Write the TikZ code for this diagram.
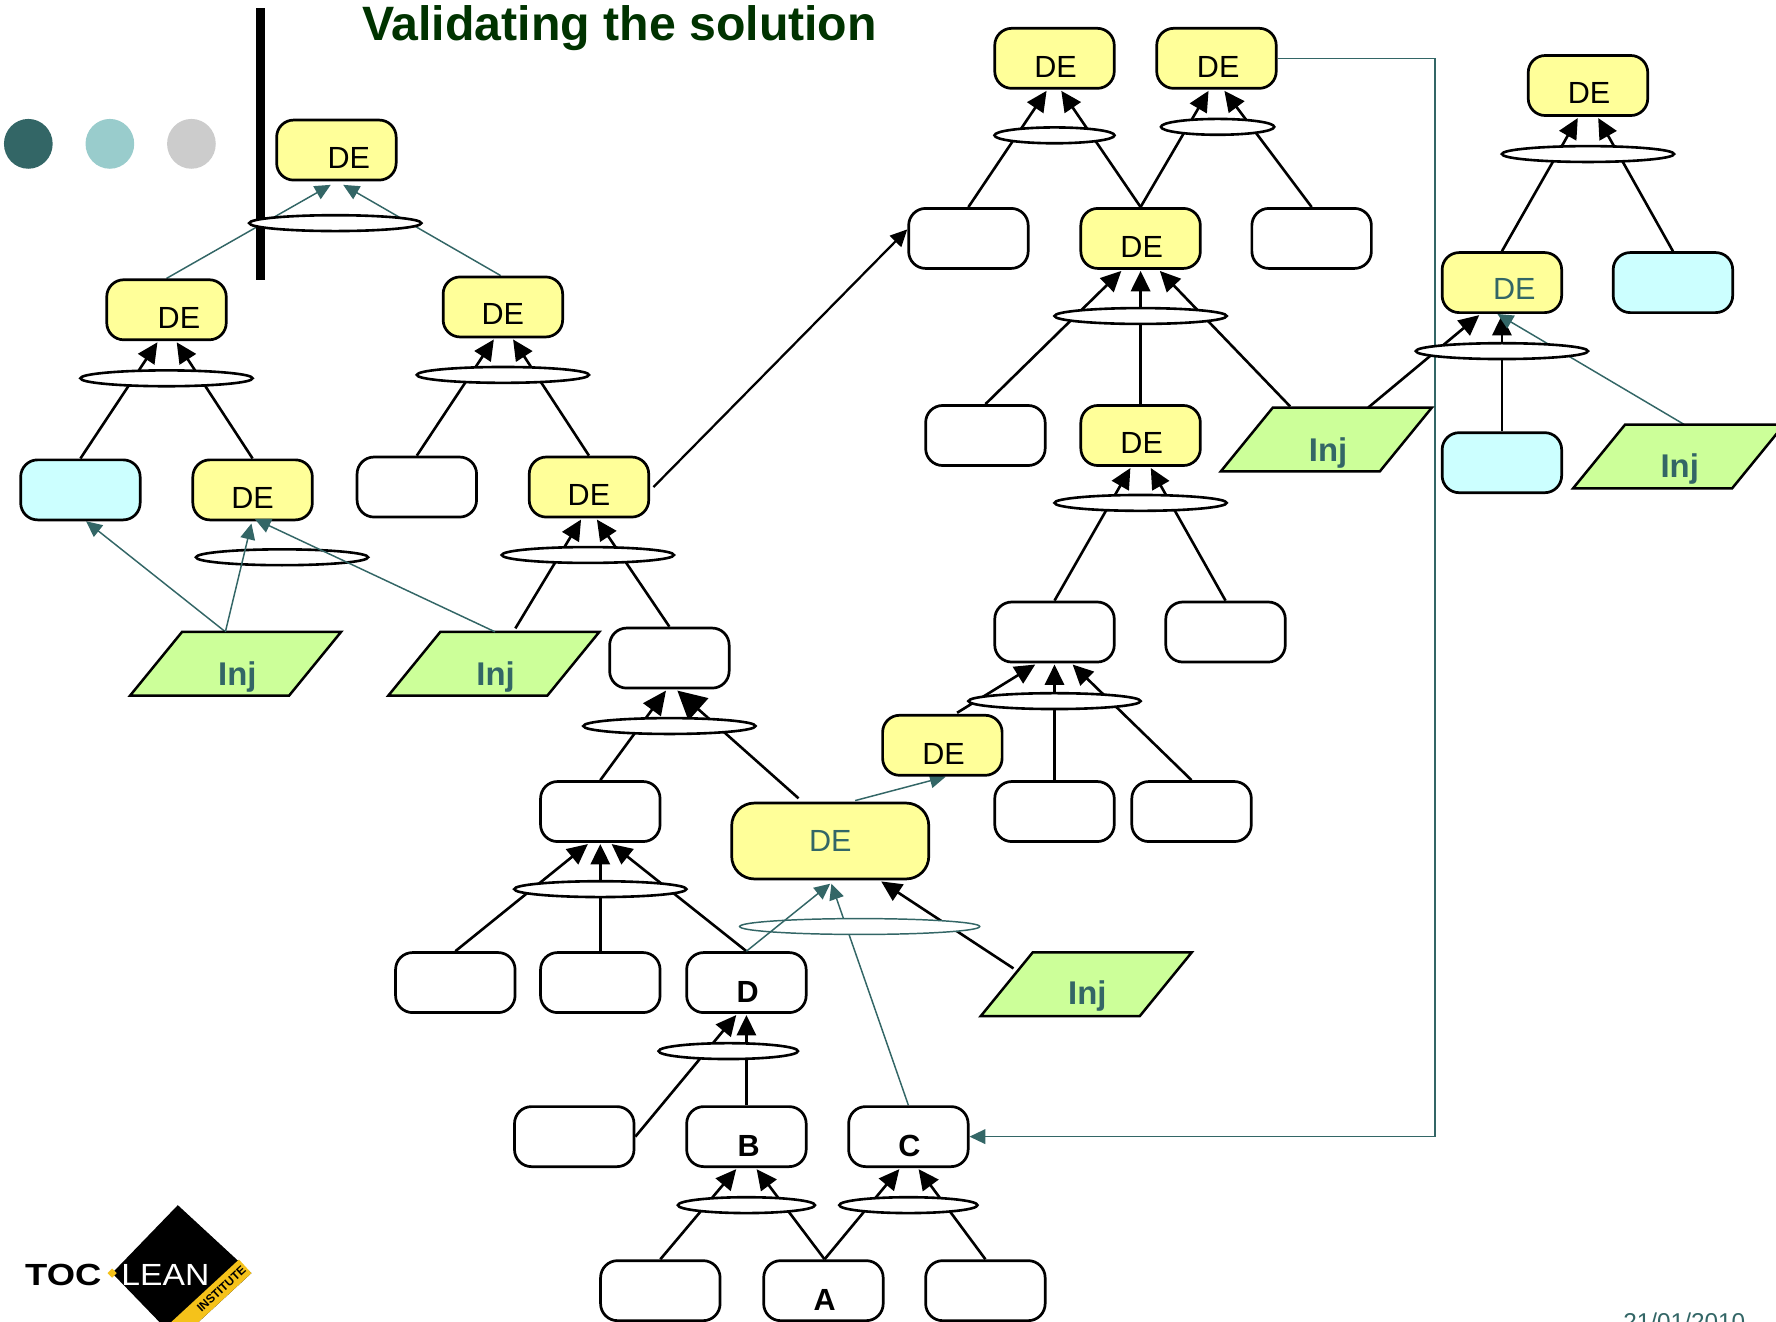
\documentclass[tikz,border=0pt]{standalone}
\usepackage{fontspec}
\setmainfont{Liberation Sans}
\usetikzlibrary{shapes.geometric,arrows.meta}
\pgfdeclarelayer{bg}\pgfdeclarelayer{shapelayer}\pgfdeclarelayer{fg}
\pgfsetlayers{bg,shapelayer,main,fg}
\definecolor{tealc}{HTML}{336666}
\definecolor{yel}{HTML}{FFFF99}
\definecolor{cya}{HTML}{CCFFFF}
\definecolor{grn}{HTML}{CCFF99}
\definecolor{lteal}{HTML}{99CCCC}
\definecolor{gry}{HTML}{CCCCCC}
\definecolor{ttl}{HTML}{003300}
\definecolor{logoy}{HTML}{F5C21A}
\newcommand{\injshape}[1]{\begin{pgfonlayer}{shapelayer}\draw[draw=black,line width=2.2pt,fill=grn] ([xshift=-23pt]#1.south west) -- ([xshift=23pt]#1.north west) -- ([xshift=23pt]#1.north east) -- ([xshift=-23pt]#1.south east) -- cycle;\end{pgfonlayer}}
\tikzset{
 boxbase/.style={draw=black,line width=2.4pt,rounded corners=15pt,minimum width=105.5pt,minimum height=53pt,inner sep=0pt},
 wbox/.style={boxbase,fill=white},
 ybox/.style={boxbase,fill=yel},
 cbox/.style={boxbase,fill=cya},
 lab/.style={font=\fontsize{27}{30}\selectfont,text=black,inner sep=0pt},
 tlab/.style={lab,text=tealc},
 blab/.style={lab,font=\fontsize{27}{30}\selectfont\bfseries},
 ilab/.style={lab,font=\fontsize{29}{32}\selectfont\bfseries,text=tealc},
 inj/.style={rectangle,minimum width=140pt,minimum height=56pt,inner sep=0pt},
 junc/.style={ellipse,draw=black,line width=2.3pt,fill=white,minimum height=14pt,inner sep=0pt},
 blk/.style={draw=black,line width=2.3pt,-{Triangle[length=18pt,width=17pt]}},
 bigblk/.style={draw=black,line width=2.3pt,-{Triangle[length=25pt,width=26pt]}},
 tl/.style={draw=tealc,line width=1.3pt,-{Triangle[length=14pt,width=13pt]}},
 dot/.style={ellipse,minimum width=43pt,minimum height=44pt,inner sep=0pt},
}
\begin{document}
\begin{tikzpicture}[x=1pt,y=-1pt]
\useasboundingbox (0,0) rectangle (1568,1166.3);
% title, bar, dots
\node[inner sep=0pt,font=\fontsize{42.6}{45}\selectfont\bfseries,text=ttl] (title) at (547,24.5) {Validating the solution};
\fill[black] (226,7) rectangle (234,247);
\node[dot,fill=tealc] (dota) at (25,127) {};
\node[dot,fill=lteal] (dotb) at (97,127) {};
\node[dot,fill=gry] (dotc) at (169,127) {};
% boxes
\node[ybox,label={[lab,xshift=11pt,yshift=-7pt]center:DE}] (t1) at (297,132.5) {};
\node[ybox,label={[lab,xshift=11pt,yshift=-7pt]center:DE}] (b1) at (147,273.5) {};
\node[ybox,label={[lab,yshift=-6pt]center:DE}] (b2) at (444,271) {};
\node[cbox] (c1) at (71,432.5) {};
\node[ybox,label={[lab,yshift=-7pt]center:DE}] (d1) at (223,432.5) {};
\node[wbox] (w1) at (368,430) {};
\node[ybox,label={[lab,yshift=-7pt]center:DE}] (d2) at (520,430) {};
\node[wbox] (w2) at (591,581) {};
\node[wbox] (w3) at (530,716.5) {};
\node[boxbase,fill=yel,minimum width=174pt,minimum height=67pt,rounded corners=20pt,label={[tlab]center:DE}] (big) at (733,742.5) {};
\node[ybox,label={[lab,xshift=1pt,yshift=-8pt]center:DE}] (d3) at (832,658) {};
\node[wbox] (w4) at (402,867.5) {};
\node[wbox] (w5) at (530,867.5) {};
\node[wbox,label={[blab,xshift=1pt,yshift=-8pt]center:D}] (nD) at (659,867.5) {};
\node[wbox] (w6) at (507,1003.5) {};
\node[wbox,label={[blab,xshift=2pt,yshift=-8pt]center:B}] (nB) at (659,1003.5) {};
\node[wbox,label={[blab,xshift=1pt,yshift=-8pt]center:C}] (nC) at (802,1003.5) {};
\node[wbox] (w7) at (583,1139.5) {};
\node[wbox,label={[blab,xshift=1pt,yshift=-8pt]center:A}] (nA) at (727,1139.5) {};
\node[wbox] (w8) at (870,1139.5) {};
\node[wbox] (w9) at (931,716.5) {};
\node[wbox] (w10) at (1052,716.5) {};
\node[wbox] (w11) at (931,558) {};
\node[wbox] (w12) at (1082,558) {};
\node[ybox,label={[lab,xshift=1pt,yshift=-7pt]center:DE}] (d4) at (1007,384.5) {};
\node[wbox] (w13) at (870,384.5) {};
\node[ybox,label={[lab,xshift=1pt,yshift=-7.5pt]center:DE}] (d5) at (1007,210.5) {};
\node[wbox] (w14) at (855,210.5) {};
\node[wbox] (w15) at (1158,210.5) {};
\node[ybox,label={[lab,xshift=1pt,yshift=-8pt]center:DE}] (d6) at (931,51.5) {};
\node[ybox,label={[lab,xshift=1.5pt,yshift=-8pt]center:DE}] (d7) at (1074,51.5) {};
\node[ybox,label={[lab,xshift=1pt,yshift=-7pt]center:DE}] (d8) at (1402,75.5) {};
\node[ybox,label={[tlab,xshift=11pt,yshift=-6pt]center:DE}] (d9) at (1326,249.5) {};
\node[cbox] (c2) at (1477,249.5) {};
\node[cbox] (c3) at (1326,408.5) {};
% parallelograms
\node[inj,label={[ilab,xshift=1.5pt,yshift=-11.5pt]center:Inj}] (i1) at (208,586) {};
\node[inj,label={[ilab,xshift=1.5pt,yshift=-11.5pt]center:Inj}] (i2) at (436,586) {};
\node[inj,label={[ilab,xshift=1pt,yshift=-10pt]center:Inj}] (i3) at (959,869) {};
\node[inj,label={[ilab,xshift=1.5pt,yshift=-12pt]center:Inj}] (i4) at (1171,388) {};
\node[inj,label={[ilab,xshift=1pt,yshift=-11pt]center:Inj}] (i5) at (1482,403) {};
\injshape{i1}\injshape{i2}\injshape{i3}\injshape{i4}\injshape{i5}
% junction ellipses
\node[junc,minimum width=152pt] (e1) at (296,197) {};
\node[junc,minimum width=152pt] (e2) at (147,334) {};
\node[junc,minimum width=152pt] (e3) at (444,331) {};
\node[junc,minimum width=152pt] (e4) at (249,492) {};
\node[junc,minimum width=152pt] (e5) at (519,490) {};
\node[junc,minimum width=152pt] (e6) at (591,641) {};
\node[junc,minimum width=152pt] (e7) at (530,785) {};
\node[ellipse,draw=tealc,line width=1.3pt,fill=white,minimum width=212pt,minimum height=14pt,inner sep=0pt] (e8) at (759,818) {};
\node[junc,minimum width=123pt] (e9) at (643,928) {};
\node[junc,minimum width=121pt] (e10) at (659,1064) {};
\node[junc,minimum width=122pt] (e11) at (802,1064) {};
\node[junc,minimum width=152pt] (e12) at (931,619) {};
\node[junc,minimum width=152pt] (e13) at (1007,444) {};
\node[junc,minimum width=152pt] (e14) at (1007,279) {};
\node[junc,minimum width=106pt] (e15) at (931,119.5) {};
\node[junc,minimum width=100pt] (e16) at (1075,112) {};
\node[junc,minimum width=152pt] (e17) at (1402,136) {};
\node[junc,minimum width=152pt] (e18) at (1326,310) {};
% connectors behind shapes
\begin{pgfonlayer}{bg}
\draw[blk] (c1.north) -- ([xshift=-8pt,yshift=-1pt]b1.south);
\draw[blk] (d1.north) -- ([xshift=9pt,yshift=-1pt]b1.south);
\draw[blk] (w1.north) -- ([xshift=-8pt,yshift=-1pt]b2.south);
\draw[blk] (d2.north) -- ([xshift=9pt,yshift=-1pt]b2.south);
\draw[blk] ([xshift=19pt,yshift=3pt]i2.north) -- ([xshift=-7pt,yshift=-1pt]d2.south);
\draw[blk] (w2.north) -- ([xshift=7pt,yshift=-1pt]d2.south);
\draw[blk,-{Triangle[length=21pt,width=19pt]}] (w3.north) -- ([xshift=-3pt,yshift=-1pt]w2.south);
\draw[bigblk] ([xshift=-28pt,yshift=3pt]big.north) -- ([xshift=7pt,yshift=-1pt]w2.south);
\draw[blk] (w4.north) -- ([xshift=-11pt,yshift=-1pt]w3.south);
\draw[blk] (w5.north) -- ([yshift=-1pt]w3.south);
\draw[blk] (nD.north) -- ([xshift=10pt,yshift=-1pt]w3.south);
\draw[blk] (w6.east) -- ([xshift=-9pt,yshift=-1pt]nD.south);
\draw[blk] (nB.north) -- ([yshift=-1pt]nD.south);
\draw[blk] (w7.north) -- ([xshift=-9pt,yshift=-1pt]nB.south);
\draw[blk] ([xshift=1pt]nA.north) -- ([xshift=9pt,yshift=-1pt]nB.south);
\draw[blk] ([xshift=1pt]nA.north) -- ([xshift=-8pt,yshift=-1pt]nC.south);
\draw[blk] (w8.north) -- ([xshift=9pt,yshift=-1pt]nC.south);
\draw[blk] ([xshift=13pt,yshift=1pt]d3.north) -- ([xshift=-17pt,yshift=-1pt]w11.south);
\draw[blk] (w9.north) -- ([yshift=-1pt]w11.south);
\draw[blk] (w10.north) -- ([xshift=16pt,yshift=-1pt]w11.south);
\draw[blk] (w11.north) -- ([xshift=-9pt,yshift=-1pt]d4.south);
\draw[blk] (w12.north) -- ([xshift=9pt,yshift=-1pt]d4.south);
\draw[blk] (w13.north) -- ([xshift=-17pt,yshift=-1pt]d5.south);
\draw[blk] (d4.north) -- ([yshift=-1pt]d5.south);
\draw[blk] ([xshift=-32pt,yshift=1pt]i4.north) -- ([xshift=17pt,yshift=-1pt]d5.south);
\draw[blk] (w14.north) -- ([xshift=-7pt,yshift=-1pt]d6.south);
\draw[blk] (d5.north) -- ([xshift=6pt,yshift=-1pt]d6.south);
\draw[blk] (d5.north) -- ([xshift=-7pt,yshift=-1pt]d7.south);
\draw[blk] (w15.north) -- ([xshift=7pt,yshift=-1pt]d7.south);
\draw[blk] (d9.north) -- ([xshift=-9pt,yshift=-1pt]d8.south);
\draw[blk] (c2.north) -- ([xshift=9pt,yshift=-1pt]d8.south);
\draw[blk] ([xshift=37pt]i4.north) -- ([xshift=-20pt,yshift=-1pt]d9.south);
\draw[blk] (c3.north) -- ([yshift=-1pt]d9.south);
\draw[blk] ([xshift=6pt,yshift=14pt]i3.west) -- ([xshift=45pt,yshift=-1pt]big.south);
\draw[draw=black,line width=2pt,-{Triangle[length=15pt,width=14pt]}] ([xshift=3pt]d2.east) -- ([yshift=8pt]w14.west);
% teal connectors behind ellipses
\draw[tl] (b1.north) -- ([xshift=-5pt,yshift=-3pt]t1.south);
\draw[tl] ([xshift=-2pt]b2.north) -- ([xshift=6pt,yshift=-3pt]t1.south);
\draw[tl] ([xshift=22pt,yshift=1pt]big.north) -- ([xshift=3pt,yshift=0pt]d3.south);
\draw[tl] (nC.north) -- ([xshift=1pt,yshift=-3pt]big.south);
\draw[tl] ([xshift=5pt]i5.north) -- ([xshift=-4pt,yshift=0pt]d9.south);
\draw[tl] ([xshift=-9pt]i1.north) -- ([xshift=5pt,yshift=0pt]c1.south);
\draw[draw=tealc,line width=1.3pt,-{Triangle[length=14pt,width=13pt]}] (d7.east) -| (1267,500) |- (nC.east);
\end{pgfonlayer}
% teal connectors that run over the ellipses
\begin{pgfonlayer}{fg}
\draw[tl] (nD.north) -- ([yshift=-3pt]big.south);
\draw[tl] ([xshift=-9pt]i1.north) -- ([xshift=-1pt,yshift=-2pt]d1.south);
\draw[tl] ([xshift=1pt]i2.north) -- ([xshift=2pt,yshift=2pt]d1.south);
\end{pgfonlayer}
% date
\node[inner sep=0pt,anchor=base,font=\fontsize{21.5}{24}\selectfont,text=tealc] (date) at (1487,1174.5) {21/01/2010};
% logo
\fill[black] (157,1064) -- (222,1124) -- (157,1184) -- (99,1124) -- cycle;
\fill[logoy] (211,1112) -- (222,1124) -- (157,1184) -- (146,1172) -- cycle;
\fill[logoy] (95,1124) -- (99,1120) -- (103,1124) -- (99,1128) -- cycle;
\node[inner sep=0pt,anchor=base west,xscale=1.19,font=\fontsize{27}{30}\selectfont\bfseries,text=black] (toc) at (22,1134.5) {TOC};
\node[inner sep=0pt,anchor=base west,xscale=1.1,font=\fontsize{27}{30}\selectfont,text=white] (lean) at (107,1134.5) {LEAN};
\node[inner sep=0pt,anchor=east,rotate=42.7,font=\fontsize{10.5}{12}\selectfont\bfseries,text=black] (inst) at (215.5,1119.5) {INSTITUTE};
\end{tikzpicture}
\end{document}
